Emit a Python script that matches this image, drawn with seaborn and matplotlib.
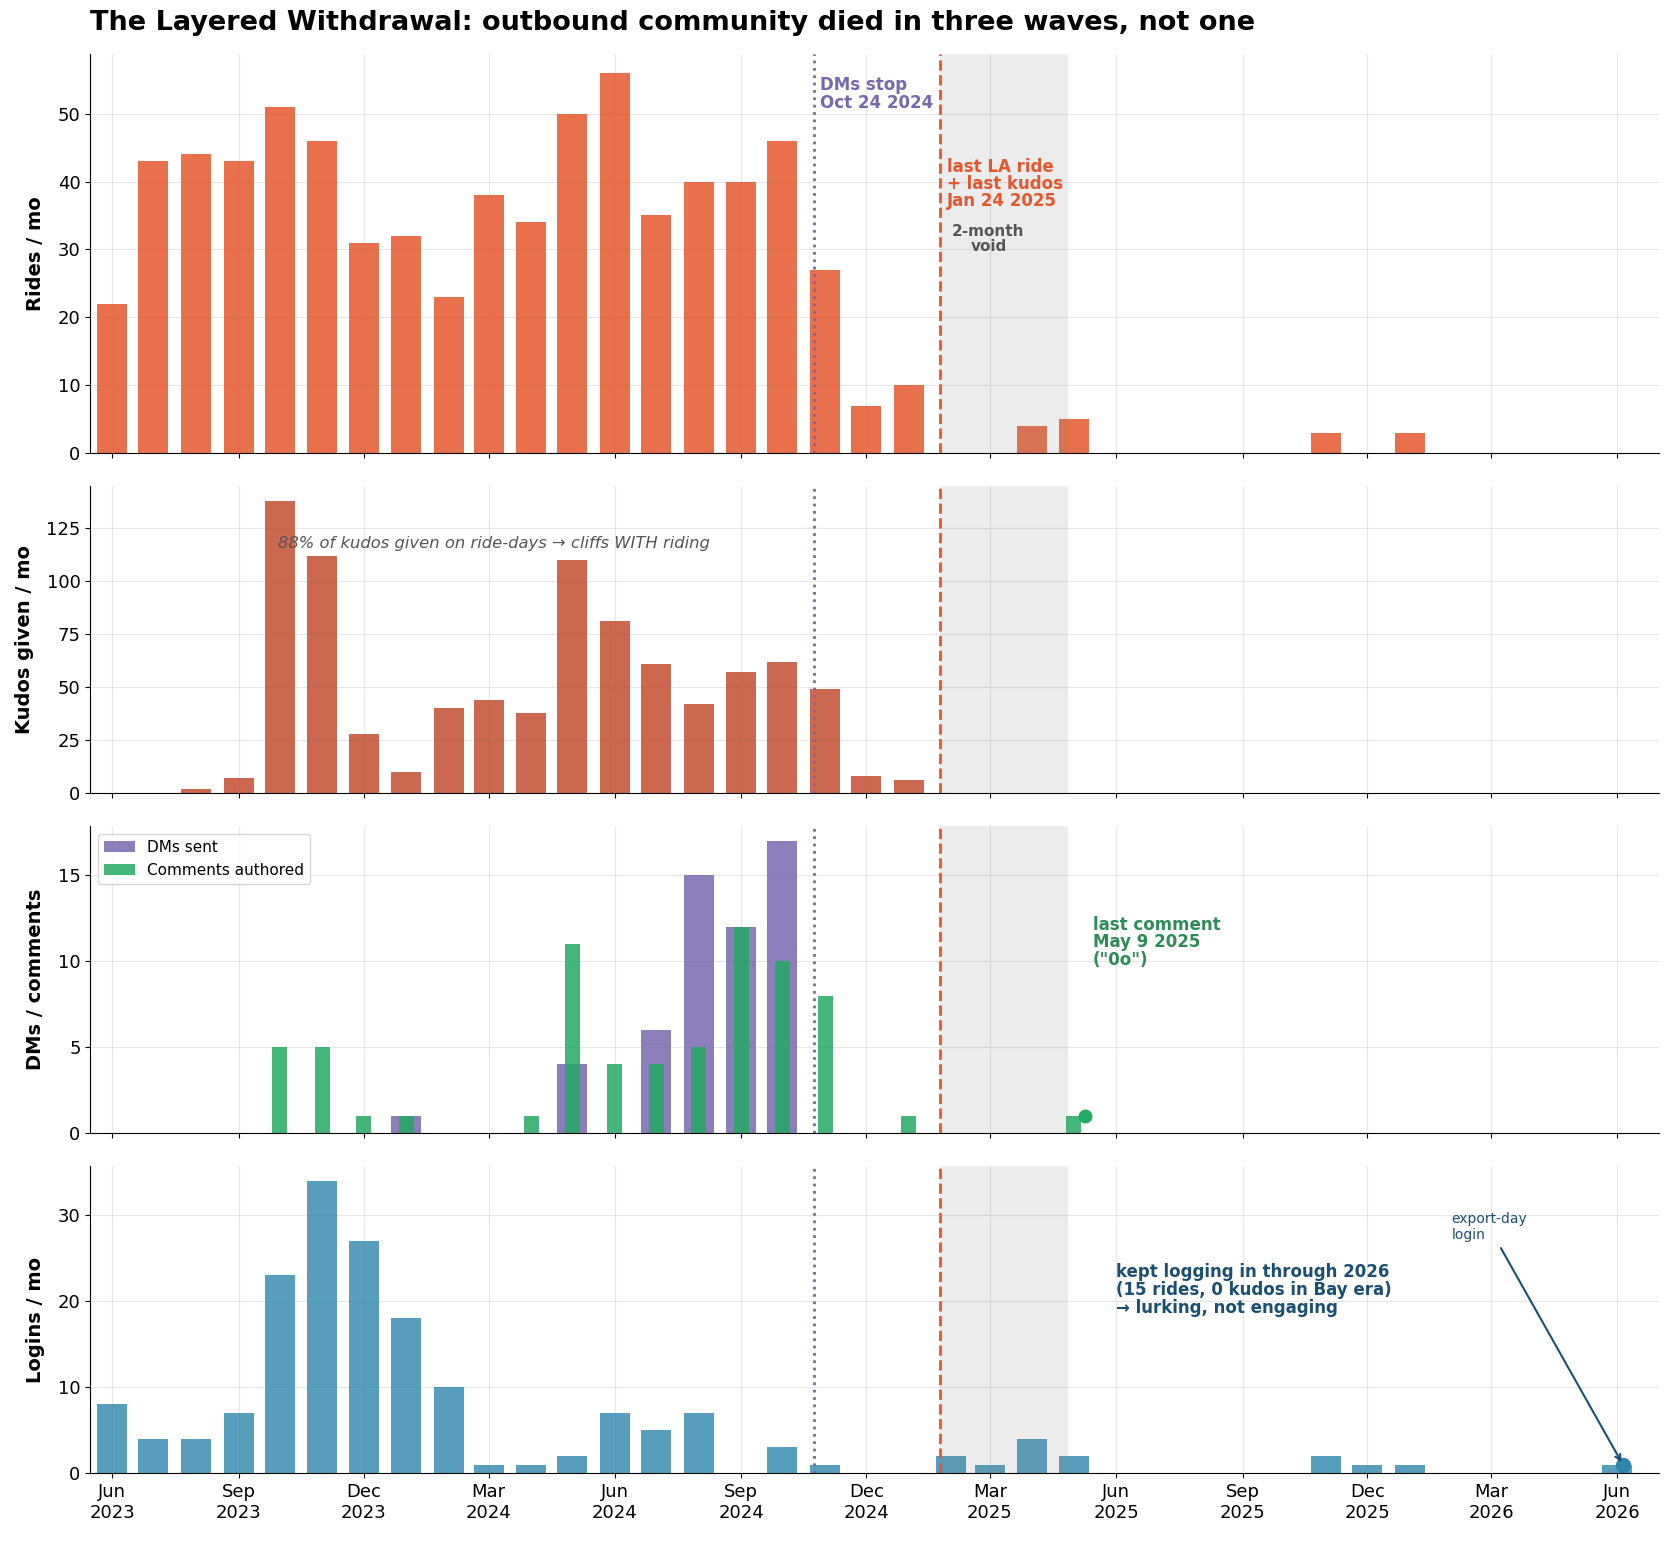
import pandas as pd
import seaborn as sns
import matplotlib
matplotlib.use("Agg")
import matplotlib.pyplot as plt
import matplotlib.dates as mdates
from matplotlib.ticker import MultipleLocator

# monthly series, Jun 2023 .. Jun 2026
months = pd.date_range("2023-06-01", "2026-06-01", freq="MS")

rides = [22, 43, 44, 43, 51, 46, 31,
         32, 23, 38, 34, 50, 56, 35, 40, 40, 46, 27, 7,
         10, 0, 0, 4, 5, 0, 0, 0, 0, 0, 3, 0,
         3, 0, 0, 0, 0, 0]

kudos = [0, 0, 2, 7, 138, 112, 28,
         10, 40, 44, 38, 110, 81, 61, 42, 57, 62, 49, 8,
         6, 0, 0, 0, 0, 0, 0, 0, 0, 0, 0, 0,
         0, 0, 0, 0, 0, 0]

dms = [0, 0, 0, 0, 0, 0, 0,
       1, 0, 0, 0, 4, 0, 6, 15, 12, 17, 0, 0,
       0, 0, 0, 0, 0, 0, 0, 0, 0, 0, 0, 0,
       0, 0, 0, 0, 0, 0]

comments = [0, 0, 0, 0, 5, 5, 1,
            1, 0, 0, 1, 11, 4, 4, 5, 12, 10, 8, 0,
            1, 0, 0, 0, 1, 0, 0, 0, 0, 0, 0, 0,
            0, 0, 0, 0, 0, 0]

logins = [8, 4, 4, 7, 23, 34, 27,
          18, 10, 1, 1, 2, 7, 5, 7, 0, 3, 1, 0,
          0, 2, 1, 4, 2, 0, 0, 0, 0, 0, 2, 1,
          1, 0, 0, 0, 0, 1]

dm_stop = pd.Timestamp("2024-10-24")
last_ride = pd.Timestamp("2025-01-24")
void_end = pd.Timestamp("2025-04-27")
last_comment = pd.Timestamp("2025-05-09")
export_day = pd.Timestamp("2026-06-05")

df = pd.DataFrame({
    "x": mdates.date2num(months),
    "rides": rides, "kudos": kudos, "dms": dms,
    "comments": comments, "logins": logins,
})

sns.set_style("ticks", rc={"text.color": "black", "axes.labelcolor": "black",
                           "xtick.color": "black", "ytick.color": "black",
                           "axes.edgecolor": "black"})
plt.rcParams["font.family"] = ["DejaVu Sans"]

fig, axes = plt.subplots(4, 1, figsize=(16.72, 15.41), dpi=100, sharex=True,
                         gridspec_kw={"height_ratios": [1.3, 1, 1, 1]})
fig.subplots_adjust(left=0.054, right=0.992, top=0.965, bottom=0.044, hspace=0.1)

c_ride = "#e4572e"
c_kudos = "#c24e30"
c_dm = "#7768ae"
c_com = "#23aa63"
c_log = "#2e86ab"

d = mdates.date2num
bar_kw = dict(native_scale=True, saturation=1, errorbar=None, linewidth=0)

sns.barplot(data=df, x="x", y="rides", width=0.78, color=c_ride, alpha=0.85,
            ax=axes[0], **bar_kw)
sns.barplot(data=df, x="x", y="kudos", width=0.78, color=c_kudos, alpha=0.85,
            ax=axes[1], **bar_kw)
sns.barplot(data=df, x="x", y="dms", width=0.78, color=c_dm, alpha=0.85,
            ax=axes[2], label="DMs sent", **bar_kw)
sns.barplot(data=df, x="x", y="comments", width=0.39, color=c_com, alpha=0.85,
            ax=axes[2], label="Comments authored", **bar_kw)
sns.barplot(data=df, x="x", y="logins", width=0.78, color=c_log, alpha=0.8,
            ax=axes[3], **bar_kw)

ylabels = ["Rides / mo", "Kudos given / mo", "DMs / comments", "Logins / mo"]
ymax = [max(rides), max(kudos), max(dms), max(logins)]
ysteps = [10, 25, 5, 10]
for ax, lab, m, st in zip(axes, ylabels, ymax, ysteps):
    ax.set_ylabel(lab, fontsize=14, fontweight="bold", labelpad=9)
    ax.set_xlabel("")
    ax.set_ylim(0, m * 1.05)
    ax.yaxis.set_major_locator(MultipleLocator(st))
    ax.axvspan(d(last_ride), d(void_end), color="gray", alpha=0.15, lw=0)
    ax.axvline(d(dm_stop), color=c_dm, ls=":", lw=2)
    ax.axvline(d(last_ride), color=c_ride, ls="--", lw=2)
    ax.grid(True, color="#dddddd", lw=0.8, alpha=0.7)
    ax.set_axisbelow(True)
    ax.tick_params(labelsize=13)
    sns.despine(ax=ax)

axes[0].set_xlim(d(pd.Timestamp("2023-05-16")), d(pd.Timestamp("2026-07-01")))
axes[3].xaxis.set_major_locator(mdates.MonthLocator(bymonth=[3, 6, 9, 12]))
axes[3].xaxis.set_major_formatter(mdates.DateFormatter("%b\n%Y"))

# panel 1 notes
axes[0].text(d(pd.Timestamp("2024-10-28")), 55.5, "DMs stop\nOct 24 2024",
             color=c_dm, fontsize=12, fontweight="bold", va="top", ha="left",
             linespacing=0.95)
axes[0].text(d(pd.Timestamp("2025-01-29")), 43.5, "last LA ride\n+ last kudos\nJan 24 2025",
             color=c_ride, fontsize=12, fontweight="bold", va="top", ha="left",
             linespacing=0.95)
axes[0].text(d(pd.Timestamp("2025-02-28")), 33.8, "2-month\nvoid",
             color="#555555", fontsize=11, fontweight="bold", va="top", ha="center",
             linespacing=1.05)

# panel 2 note
axes[1].text(d(pd.Timestamp("2023-09-30")), 118,
             "88% of kudos given on ride-days \u2192 cliffs WITH riding",
             color="#555555", fontsize=11.8, style="italic", va="center", ha="left")

# panel 3
axes[2].legend(loc="upper left", fontsize=11)
axes[2].plot(d(last_comment), 1, "o", color=c_com, ms=9)
axes[2].text(d(pd.Timestamp("2025-05-15")), 11.1, 'last comment\nMay 9 2025\n("0o")',
             color="#2e8b57", fontsize=12, fontweight="bold", va="center", ha="left",
             linespacing=0.95)

# panel 4
axes[3].plot(d(export_day), 1, "o", color=c_log, ms=10)
axes[3].text(d(pd.Timestamp("2025-06-01")), 21.3,
             "kept logging in through 2026\n(15 rides, 0 kudos in Bay era)\n\u2192 lurking, not engaging",
             color="#1b4f72", fontsize=12, fontweight="bold", va="center", ha="left",
             linespacing=0.98)
axes[3].annotate("export-day\nlogin", xy=(d(export_day), 1),
                 xytext=(d(pd.Timestamp("2026-01-31")), 28.6),
                 color="#1b4f72", fontsize=10, va="center", ha="left",
                 arrowprops=dict(arrowstyle="->", color="#1b4f72", lw=1.5))

fig.text(0.054, 0.985,
         "The Layered Withdrawal: outbound community died in three waves, not one",
         fontsize=19.5, fontweight="bold", ha="left", va="center")

fig.savefig("out.png", dpi=100)
